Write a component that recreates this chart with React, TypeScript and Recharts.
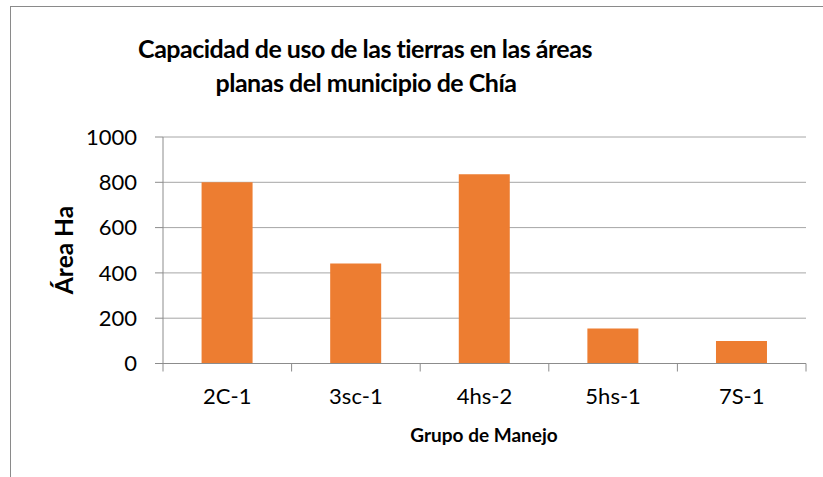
import React from 'react';
import { BarChart, Bar, XAxis, YAxis, CartesianGrid } from 'recharts';

const categories = ['2C-1', '3sc-1', '4hs-2', '5hs-1', '7S-1'];
const areaHa = [800, 442, 835, 155, 99];
const yTicks = [0, 200, 400, 600, 800, 1000];
const titleLines = ['Capacidad de uso de las tierras en las áreas', 'planas del municipio de Chía'];
const xTitle = 'Grupo de Manejo';
const yTitle = 'Área Ha';

const data = categories.map((c, i) => ({ grupo: c, area: areaHa[i] }));

const FONT = 'Lato, "Open Sans", sans-serif';
const AXIS = '#8c8c8c';
const GRID = '#a6a6a6';
const TICK_SIZE = 8;
const TICK_MARGIN = 17;

function XTick(props: any) {
  const { x, y, payload, index, visibleTicksCount } = props;
  const off = payload && payload.offset ? payload.offset : 64.3;
  const axisY = y - TICK_SIZE - TICK_MARGIN;
  const last = index === (visibleTicksCount ? visibleTicksCount - 1 : categories.length - 1);
  return (
    <g>
      <line x1={x - off} x2={x - off} y1={axisY} y2={axisY + TICK_SIZE} stroke={AXIS} strokeWidth={1} />
      {last && <line x1={x + off} x2={x + off} y1={axisY} y2={axisY + TICK_SIZE} stroke={AXIS} strokeWidth={1} />}
      <text x={x} y={y} dy="0.71em" textAnchor="middle" fill="#000" fontFamily={FONT} fontSize={22}>
        {payload.value}
      </text>
    </g>
  );
}

export default function App() {
  return (
    <div style={{ position: 'absolute', left: 0, top: 0, width: 823, height: 477, overflow: 'hidden', background: '#fff' }}>
      <div style={{ position: 'absolute', left: 10, top: 6, width: 900, height: 600, border: '1px solid #8a8a8a', boxSizing: 'border-box' }} />
      <div style={{ position: 'absolute', left: 0, top: 0 }}>
        <BarChart width={823} height={477} data={data} margin={{ top: 137, right: 17, bottom: 83.5, left: 90 }} barCategoryGap="30%">
          <CartesianGrid vertical={false} stroke={GRID} strokeWidth={1} />
          <XAxis
            dataKey="grupo"
            height={30}
            axisLine={{ stroke: AXIS, strokeWidth: 1 }}
            tickLine={false}
            tickSize={TICK_SIZE}
            tickMargin={TICK_MARGIN}
            tick={<XTick />}
            interval={0}
          />
          <YAxis
            width={73}
            domain={[0, 1000]}
            ticks={yTicks}
            axisLine={{ stroke: AXIS, strokeWidth: 1 }}
            tickLine={{ stroke: AXIS, strokeWidth: 1 }}
            tickSize={TICK_SIZE}
            tickMargin={18}
            tick={{ fill: '#000', fontFamily: FONT, fontSize: 22 }}
          />
          <Bar dataKey="area" fill="#ED7D31" isAnimationActive={false} />
        </BarChart>
      </div>
      <svg width={823} height={477} style={{ position: 'absolute', left: 0, top: 0, pointerEvents: 'none' }}>
        <text x={365} y={58} textAnchor="middle" fontFamily={FONT} fontWeight="bold" fontSize={25} letterSpacing={-0.5} fill="#000">
          {titleLines[0]}
        </text>
        <text x={366} y={92} textAnchor="middle" fontFamily={FONT} fontWeight="bold" fontSize={25} letterSpacing={-0.5} fill="#000">
          {titleLines[1]}
        </text>
        <text x={484} y={442} textAnchor="middle" fontFamily={FONT} fontWeight="bold" fontSize={19} fill="#000">
          {xTitle}
        </text>
        <text transform="translate(73,250) rotate(-90)" textAnchor="middle" fontFamily={FONT} fontWeight="bold" fontSize={24.5} fill="#000">
          {yTitle}
        </text>
      </svg>
    </div>
  );
}
